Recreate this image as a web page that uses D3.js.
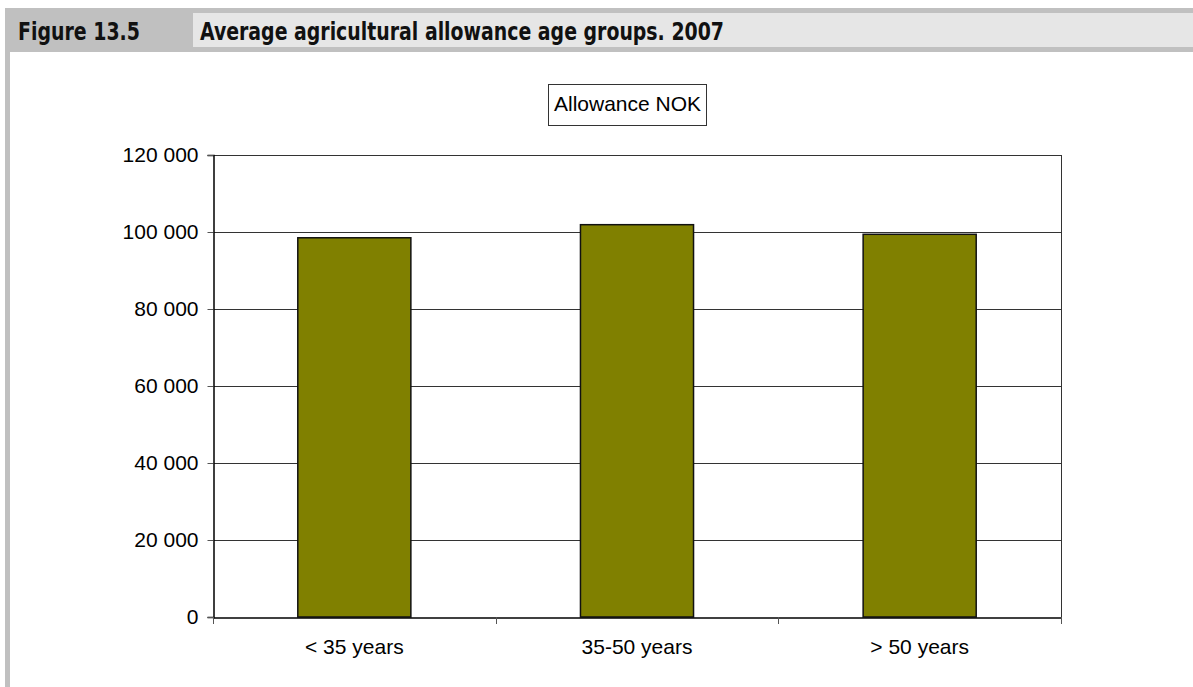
<!DOCTYPE html>
<html>
<head>
<meta charset="utf-8">
<script src="https://cdn.jsdelivr.net/npm/d3@7"></script>
<style>
  html, body { margin: 0; padding: 0; background: #fff; }
  svg { display: block; }
</style>
</head>
<body>
<svg id="chart" width="1193" height="687"></svg>
<script>
const figureLabel = "Figure 13.5";
const figureTitle = "Average agricultural allowance age groups. 2007";
const seriesName = "Allowance NOK";
const categories = ["< 35 years", "35-50 years", "> 50 years"];
const values = [98500, 101900, 99400];
const yTicks = [0, 20000, 40000, 60000, 80000, 100000, 120000];

const svg = d3.select("#chart");
const W = 1193, H = 687;

// Frame
svg.append("rect").attr("x", 5).attr("y", 8).attr("width", W - 5).attr("height", 44).attr("fill", "#c0c0c0");
svg.append("rect").attr("x", 5).attr("y", 52).attr("width", 5).attr("height", H - 52).attr("fill", "#c0c0c0");
svg.append("rect").attr("x", 193).attr("y", 13).attr("width", W - 193).attr("height", 34).attr("fill", "#e6e6e6");

const hdrFont = "'DejaVu Sans Condensed', 'DejaVu Sans', sans-serif";
const t1 = svg.append("text").attr("x", 18).attr("y", 40)
  .attr("font-family", hdrFont).attr("font-stretch", "condensed").attr("font-weight", "bold")
  .attr("font-size", 24).attr("fill", "#111").text(figureLabel);
const t2 = svg.append("text").attr("x", 200).attr("y", 40)
  .attr("font-family", hdrFont).attr("font-stretch", "condensed").attr("font-weight", "bold")
  .attr("font-size", 24).attr("fill", "#111").text(figureTitle);
// fit to measured widths
[[t1, 122], [t2, 524]].forEach(([t, w]) => {
  const len = t.node().getComputedTextLength();
  if (Math.abs(len - w) > 2) t.attr("textLength", w).attr("lengthAdjust", "spacingAndGlyphs");
});

// Plot
const m = { left: 213, right: 1061, top: 155, bottom: 617 };
const x = d3.scaleBand().domain(categories).range([m.left, m.right]).paddingInner(0.6).paddingOuter(0.3);
const xOuter = d3.scaleBand().domain(categories).range([m.left, m.right]);
const y = d3.scaleLinear().domain([0, 120000]).range([m.bottom, m.top]);

const fmt = v => d3.format(",")(v).replace(/,/g, " ");
const font = "'Liberation Sans', Arial, sans-serif";

// grid lines
svg.append("g").selectAll("line").data(yTicks.filter(d => d > 0)).join("line")
  .attr("x1", m.left).attr("x2", m.right)
  .attr("y1", d => Math.round(y(d)) + 0.5).attr("y2", d => Math.round(y(d)) + 0.5)
  .attr("stroke", "#333").attr("stroke-width", 1);
// right border
svg.append("line").attr("x1", m.right + 0.5).attr("x2", m.right + 0.5)
  .attr("y1", m.top).attr("y2", m.bottom).attr("stroke", "#333");

// bars
svg.append("g").selectAll("rect").data(values).join("rect")
  .attr("x", (d, i) => x(categories[i]))
  .attr("y", d => y(d))
  .attr("width", x.bandwidth())
  .attr("height", d => m.bottom - y(d))
  .attr("fill", "#808000").attr("stroke", "#111").attr("stroke-width", 1.5);

// y axis
const yAxis = d3.axisLeft(y).tickValues(yTicks).tickFormat(fmt).tickSize(6).tickPadding(9);
const gy = svg.append("g").attr("transform", `translate(${m.left + 0.5},0)`).call(yAxis);
gy.select(".domain").attr("stroke", "#000").attr("stroke-width", 1.5);
gy.selectAll(".tick line").attr("stroke", "#555");
gy.selectAll("text").attr("font-family", font).attr("font-size", 21).attr("fill", "#000");

// x axis
const xAxis = d3.axisBottom(xOuter).tickSize(0).tickPadding(22);
const gx = svg.append("g").attr("transform", `translate(0,${m.bottom + 0.5})`).call(xAxis);
gx.select(".domain").attr("stroke", "#000").attr("stroke-width", 1.5);
gx.selectAll("text").attr("font-family", font).attr("font-size", 21).attr("fill", "#000");
// category boundary ticks
const bounds = [m.left, ...categories.map(c => xOuter(c) + xOuter.bandwidth())];
svg.append("g").selectAll("line").data(bounds).join("line")
  .attr("x1", d => Math.round(d) + 0.5).attr("x2", d => Math.round(d) + 0.5)
  .attr("y1", m.bottom).attr("y2", m.bottom + 7)
  .attr("stroke", "#555");

// legend
const lg = svg.append("g");
lg.append("rect").attr("x", 548.5).attr("y", 84.5).attr("width", 158).attr("height", 41)
  .attr("fill", "#fff").attr("stroke", "#333").attr("stroke-width", 1);
lg.append("text").attr("x", 627.5).attr("y", 111).attr("text-anchor", "middle")
  .attr("font-family", font).attr("font-size", 21).attr("fill", "#000").text(seriesName);
</script>
</body>
</html>
